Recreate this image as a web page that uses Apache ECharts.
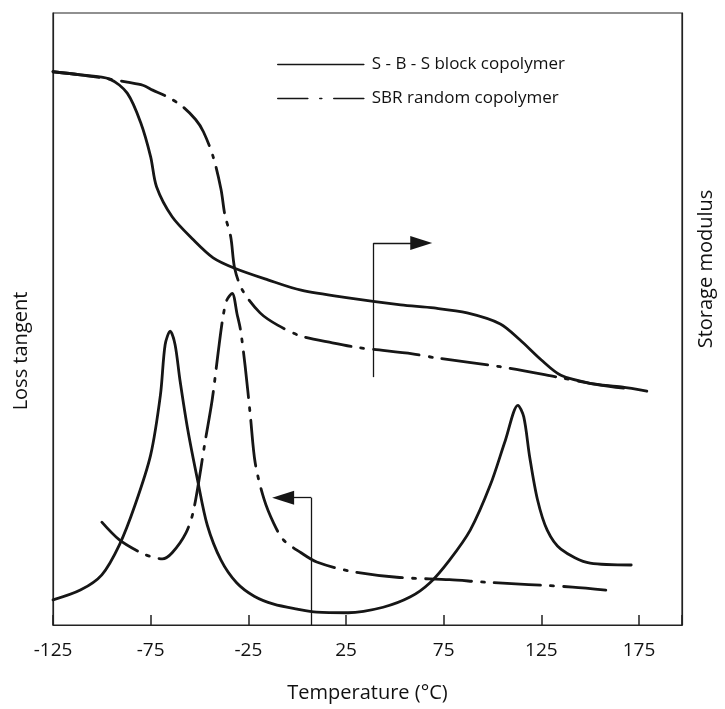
<!DOCTYPE html>
<html>
<head>
<meta charset="utf-8">
<title>Loss tangent and storage modulus</title>
<script src="https://cdn.jsdelivr.net/npm/echarts@6/dist/echarts.min.js"></script>
<style>
  html, body { margin: 0; padding: 0; background: #fff; }
  #chart { width: 725px; height: 709px; }
</style>
</head>
<body>
<div id="chart"></div>
<script>
// temperature axis
var tempMin = -125;
var tempMax = 197;
var tempStep = 50;

// S-B-S block copolymer, storage modulus (right axis, arbitrary units)
var sbsModTemp = [-125, -111, -96, -87, -80, -75, -72, -64, -53, -43, -32, -15, 2, 27, 53, 70, 87, 104, 114, 125, 135, 150, 166, 179];
var sbsModValue = [90.4, 89.9, 89.2, 86.9, 82.0, 76.5, 71.6, 66.7, 62.9, 60.0, 58.3, 56.4, 54.7, 53.4, 52.3, 51.8, 51.0, 49.2, 46.6, 43.3, 40.8, 39.5, 38.9, 38.2];

// SBR random copolymer, storage modulus
var sbrModTemp = [-125, -111, -96, -87, -79, -74, -67, -59, -52, -48, -43, -39, -37, -34, -32, -28, -19, -10, 2, 18, 32, 59, 72, 104, 135, 155, 170];
var sbrModValue = [90.4, 89.9, 89.2, 88.7, 88.2, 87.4, 86.4, 84.8, 82.6, 80.6, 76.5, 71.2, 67.0, 63.4, 58.3, 54.7, 51.0, 49.0, 47.2, 46.1, 45.3, 44.3, 43.6, 42.2, 40.4, 39.2, 38.6];

// S-B-S block copolymer, loss tangent (left axis, arbitrary units)
var sbsTanTemp = [-125, -111, -100, -91, -83, -75, -70, -67.6, -65, -62.5, -60, -56, -51, -46, -39, -31, -22, -12, 0, 10, 26, 44, 58, 68, 78, 88.6, 98.9, 106.6, 113, 116, 119, 123, 128, 135, 150, 171];
var sbsTanValue = [4.1, 5.7, 8.2, 13.1, 19.6, 27.8, 37.6, 45.8, 48.0, 45.8, 40.0, 31.9, 23.7, 16.3, 10.6, 6.9, 4.7, 3.4, 2.6, 2.1, 2.0, 2.9, 4.6, 6.9, 10.6, 15.5, 22.9, 30.2, 35.9, 34.0, 27.5, 20.5, 15.5, 12.4, 10.1, 9.8];

// SBR random copolymer, loss tangent
var sbrTanTemp = [-100, -91, -80, -74, -69, -64, -57, -53, -47, -43.5, -40.5, -38, -36, -33.3, -30.7, -29, -26.6, -24, -21.5, -17, -12, -7, 2, 10, 27, 51, 78, 96, 141, 158];
var sbrTanValue = [16.8, 13.9, 11.8, 11.1, 10.8, 11.8, 15.0, 18.8, 30.2, 36.8, 44.4, 50.3, 53.1, 54.2, 50.7, 48.2, 42.2, 34.3, 26.5, 20.6, 16.6, 13.9, 11.8, 10.3, 8.8, 7.8, 7.4, 7.0, 6.2, 5.7];

// pointer arrows: [x, y] in data units, last point is the head
var arrowMod = [[39, 40.5], [39, 62.4], [63.5, 62.4]];
var arrowTan = [[7.2, 0], [7.2, 20.8], [-7.2, 20.8]];

var seriesNames = ['S - B - S block copolymer', 'SBR random copolymer'];
var dashDot = [46, 10, 3, 10];
var ink = '#161616';
var fontName = 'Open Sans';

function zip(xs, ys) {
    return xs.map(function(x, i) { return [x, ys[i]]; });
}

function arrowLines(pts) {
    return [
        [{ coord: pts[0], symbol: 'none' }, { coord: pts[1], symbol: 'none' }],
        [{ coord: pts[1], symbol: 'none' }, { coord: pts[2], symbol: 'triangle' }]
    ];
}

function curve(name, data, yIndex, dashed) {
    return {
        name: name,
        type: 'line',
        yAxisIndex: yIndex,
        data: data,
        showSymbol: false,
        symbol: 'none',
        smooth: 0.3,
        lineStyle: {
            color: ink,
            width: 2.8,
            type: dashed ? dashDot : 'solid',
            cap: 'round'
        },
        itemStyle: { color: ink },
        z: 3
    };
}

function hiddenYAxis(extra) {
    var axis = {
        type: 'value',
        min: 0,
        max: 100,
        nameLocation: 'middle',
        axisLine: { show: true, onZero: false, lineStyle: { color: '#222', width: 1.2 } },
        axisTick: { show: false },
        axisLabel: { show: false },
        splitLine: { show: false }
    };
    return Object.assign(axis, extra);
}

var chart = echarts.init(document.getElementById('chart'));

chart.setOption({
    animation: false,
    backgroundColor: '#fff',
    textStyle: { fontFamily: fontName, color: '#111' },
    grid: {
        left: 53, right: 43, top: 13, bottom: 84,
        show: true, borderColor: '#222', borderWidth: 1.2
    },
    legend: {
        orient: 'vertical',
        left: 272,
        top: 51,
        itemWidth: 86,
        itemHeight: 14,
        itemGap: 17,
        selectedMode: false,
        textStyle: { fontSize: 17, color: '#111', fontFamily: fontName, padding: [0, 0, 0, 3] },
        itemStyle: { color: 'rgba(0,0,0,0)', borderWidth: 0 },
        lineStyle: { width: 1.6, color: ink },
        data: [
            { name: seriesNames[0], lineStyle: { type: 'solid' } },
            { name: seriesNames[1], lineStyle: { type: [30, 12, 2, 12] } }
        ]
    },
    xAxis: {
        type: 'value',
        min: tempMin,
        max: tempMax,
        interval: tempStep,
        name: 'Temperature (°C)',
        nameLocation: 'middle',
        nameGap: 58,
        nameTextStyle: { fontSize: 20, color: '#111' },
        splitLine: { show: false },
        axisLine: { onZero: false, lineStyle: { color: '#222', width: 1.2 } },
        axisTick: { inside: true, length: 10, lineStyle: { color: '#222', width: 1.5 } },
        axisLabel: {
            fontSize: 19,
            color: '#111',
            margin: 16,
            formatter: function(v) {
                return (v - tempMin) % tempStep === 0 ? String(v) : '';
            }
        }
    },
    yAxis: [
        hiddenYAxis({
            name: 'Loss tangent',
            nameGap: 22,
            nameTextStyle: { fontSize: 20, color: '#111', padding: [0, 64, 0, 0] }
        }),
        hiddenYAxis({
            position: 'right',
            name: 'Storage modulus',
            nameGap: 14,
            nameTextStyle: { fontSize: 20, color: '#111', padding: [0, 0, 0, 100] }
        })
    ],
    series: [
        curve(seriesNames[0], zip(sbsModTemp, sbsModValue), 1, false),
        curve(seriesNames[1], zip(sbrModTemp, sbrModValue), 1, true),
        curve(seriesNames[0], zip(sbsTanTemp, sbsTanValue), 0, false),
        curve(seriesNames[1], zip(sbrTanTemp, sbrTanValue), 0, true),
        {
            name: 'arrows',
            type: 'line',
            data: [],
            markLine: {
                silent: true,
                symbolSize: [14, 22],
                label: { show: false },
                lineStyle: { color: ink, width: 1.3, type: 'solid' },
                itemStyle: { color: ink },
                data: arrowLines(arrowMod).concat(arrowLines(arrowTan))
            }
        }
    ]
});
</script>
</body>
</html>
